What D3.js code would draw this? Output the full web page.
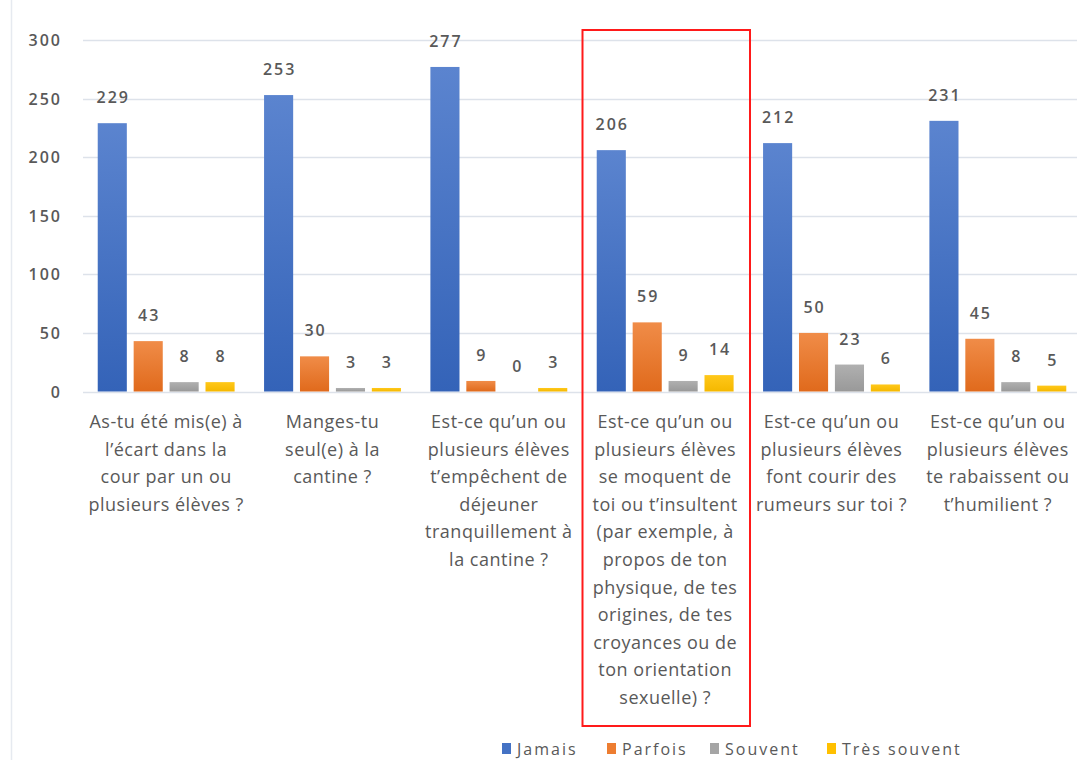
<!DOCTYPE html>
<html><head><meta charset="utf-8">
<script src="https://cdn.jsdelivr.net/npm/d3@7"></script>
<style>body{margin:0;background:#fff;}svg{display:block;}</style>
</head><body>
<script>
const categories = [
  ["As-tu été mis(e) à","l’écart dans la","cour par un ou","plusieurs élèves ?"],
  ["Manges-tu","seul(e) à la","cantine ?"],
  ["Est-ce qu’un ou","plusieurs élèves","t’empêchent de","déjeuner","tranquillement à","la cantine ?"],
  ["Est-ce qu’un ou","plusieurs élèves","se moquent de","toi ou t’insultent","(par exemple, à","propos de ton","physique, de tes","origines, de tes","croyances ou de","ton orientation","sexuelle) ?"],
  ["Est-ce qu’un ou","plusieurs élèves","font courir des","rumeurs sur toi ?"],
  ["Est-ce qu’un ou","plusieurs élèves","te rabaissent ou","t’humilient ?"]
];
const seriesNames = ["Jamais","Parfois","Souvent","Très souvent"];
const jamais = [229,253,277,206,212,231];
const parfois = [43,30,9,59,50,45];
const souvent = [8,3,0,9,23,8];
const tresSouvent = [8,3,3,14,6,5];
const yTicks = [0,50,100,150,200,250,300];
const highlightIndex = 3;

const seriesValues = [jamais, parfois, souvent, tresSouvent];
const colors = ["#4472C4","#ED7D31","#A5A5A5","#FFC000"];
const colorsLight = ["#5b84cf","#f08c48","#b0b0b0","#ffc81a"];
const colorsDark = ["#3463b8","#e06a1c","#999999","#f5b800"];

const W = 1077, H = 760;
const svg = d3.select("body").append("svg").attr("width", W).attr("height", H);
const defs = svg.append("defs");
colors.forEach((c,i)=>{
  const g = defs.append("linearGradient").attr("id","g"+i).attr("x1",0).attr("y1",0).attr("x2",0).attr("y2",1);
  g.append("stop").attr("offset","0%").attr("stop-color",colorsLight[i]);
  g.append("stop").attr("offset","100%").attr("stop-color",colorsDark[i]);
});

const x0 = d3.scaleBand().domain(d3.range(categories.length)).range([83, 1081]).padding(0);
const x1 = d3.scaleBand().domain(d3.range(seriesNames.length)).range([0, x0.bandwidth()]).paddingInner(0.19).paddingOuter(0.41);
const y = d3.scaleLinear().domain([0,300]).range([391.5, 40]);

const font = "'Open Sans', 'Liberation Sans', sans-serif";
const textColor = "#595959";

// left border line
svg.append("line").attr("x1",11.5).attr("x2",11.5).attr("y1",0).attr("y2",H).attr("stroke","#e6eaf0").attr("stroke-width",1.5);

// gridlines
svg.append("g").selectAll("line").data(yTicks).join("line")
  .attr("x1",83).attr("x2",W).attr("y1",d=>Math.round(y(d))+0.5).attr("y2",d=>Math.round(y(d))+0.5)
  .attr("stroke","#dde2ea").attr("stroke-width",1.5);

// y axis labels
const yAxis = d3.axisLeft(y).tickValues(yTicks).tickSize(0).tickPadding(0);
const ya = svg.append("g").attr("transform","translate(62,0)").call(yAxis);
ya.select(".domain").remove();
ya.selectAll("text").attr("font-family",font).attr("font-size",16).attr("font-weight",600)
  .attr("letter-spacing","2px").attr("fill",textColor).attr("dy","0.35em");

// bars
const gCat = svg.append("g").selectAll("g").data(categories.map((c,i)=>i)).join("g")
  .attr("transform",i=>`translate(${x0(i)},0)`);
gCat.selectAll("rect").data(i=>seriesValues.map((s,k)=>({k, v:s[i]}))).join("rect")
  .attr("x",d=>x1(d.k)).attr("width",x1.bandwidth())
  .attr("y",d=>y(d.v)).attr("height",d=>y(0)-y(d.v))
  .attr("fill",d=>`url(#g${d.k})`);
gCat.selectAll("text.val").data(i=>seriesValues.map((s,k)=>({k, v:s[i]}))).join("text")
  .attr("class","val")
  .attr("x",d=>x1(d.k)+x1.bandwidth()/2+1).attr("y",d=>y(d.v)-20)
  .attr("text-anchor","middle").attr("font-family",font).attr("font-size",16).attr("font-weight",600)
  .attr("letter-spacing","2px").attr("fill",textColor).text(d=>d.v);

// category labels
categories.forEach((lines,i)=>{
  const t = svg.append("text").attr("text-anchor","middle").attr("font-family",font)
    .attr("font-size",18).attr("letter-spacing","0.5px").attr("fill",textColor);
  lines.forEach((l,j)=>{
    t.append("tspan").attr("x",x0(i)+x0.bandwidth()/2).attr("y",428+j*27.6).text(l);
  });
});

// highlight rect
svg.append("rect").attr("x",x0(highlightIndex)+0.5).attr("y",30).attr("width",167.5).attr("height",696)
  .attr("fill","none").attr("stroke","#ff1a1a").attr("stroke-width",2);

// legend
const legendX = [502, 607, 710, 827];
const lg = svg.append("g").selectAll("g").data(seriesNames).join("g")
  .attr("transform",(d,i)=>`translate(${legendX[i]},749)`);
lg.append("rect").attr("x",0).attr("y",-6).attr("width",9).attr("height",11).attr("fill",(d,i)=>colors[i]);
lg.append("text").attr("x",15).attr("y",0).attr("dy","0.35em").attr("font-family",font).attr("font-size",16)
  .attr("letter-spacing","2px").attr("fill",textColor).text(d=>d);
</script>
</body></html>
